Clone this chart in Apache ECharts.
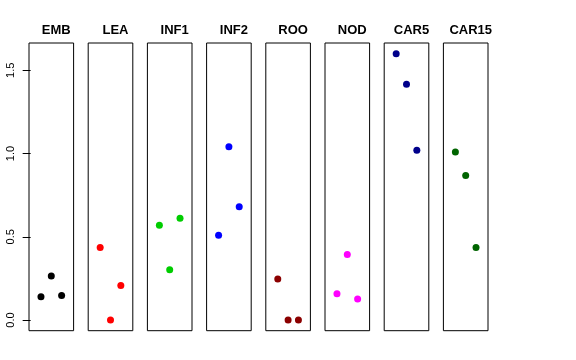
<!DOCTYPE html>
<html>
<head>
<meta charset="utf-8">
<script src="https://cdn.jsdelivr.net/npm/echarts@6/dist/echarts.min.js"></script>
<style>html,body{margin:0;padding:0;background:#fff}#c{width:576px;height:360px}</style>
</head>
<body>
<div id="c"></div>
<script>
const categories = ['EMB', 'LEA', 'INF1', 'INF2', 'ROO', 'NOD', 'CAR5', 'CAR15'];
const positions = [1, 2, 3];
const EMB = [0.140, 0.265, 0.148];
const LEA = [0.436, 0.000, 0.208];
const INF1 = [0.570, 0.302, 0.612];
const INF2 = [0.510, 1.041, 0.681];
const ROO = [0.246, 0.000, 0.000];
const NOD = [0.158, 0.394, 0.126];
const CAR5 = [1.600, 1.416, 1.020];
const CAR15 = [1.010, 0.868, 0.436];
const yTicks = [0, 0.5, 1.0, 1.5];
const seriesValues = [EMB, LEA, INF1, INF2, ROO, NOD, CAR5, CAR15];
const colors = ['#000000', '#FF0000', '#00CD00', '#0000FF', '#8B0000', '#FF00FF', '#00008B', '#006400'];

const font = 'Liberation Sans, Arial, Helvetica, sans-serif';
const left0 = 29, pitch = 59.2, gw = 44.6, gTop = 43, gh = 287.7;
const grids = [], xAxes = [], yAxes = [], series = [], titles = [];
categories.forEach((name, i) => {
  const l = left0 + i * pitch;
  grids.push({left: l, top: gTop, width: gw, height: gh, show: true, borderColor: '#000', borderWidth: 1, backgroundColor: 'transparent', containLabel: false});
  xAxes.push({gridIndex: i, type: 'value', min: -0.16, max: 4.16, show: false});
  yAxes.push({
    gridIndex: i, type: 'value', min: -0.064, max: 1.664, show: i === 0,
    axisLine: {show: false},
    splitLine: {show: false},
    axisTick: {show: i === 0, length: 8, inside: false, customValues: yTicks, lineStyle: {color: '#000', width: 1}},
    axisLabel: {show: i === 0, customValues: yTicks, rotate: 90, margin: 13, color: '#000', fontSize: 11, fontFamily: font,
      formatter: v => Number(v).toFixed(1)}
  });
  series.push({
    type: 'scatter', xAxisIndex: i, yAxisIndex: i, symbol: 'circle', symbolSize: 7,
    itemStyle: {color: colors[i], opacity: 1}, silent: true,
    data: positions.map((p, k) => [p, seriesValues[i][k]])
  });
  titles.push({text: name, left: l + gw / 2, top: 19, textAlign: 'center',
    textStyle: {fontSize: 13, fontWeight: 'bold', color: '#000', fontFamily: font}});
});

const chart = echarts.init(document.getElementById('c'), null, {renderer: 'canvas'});
chart.setOption({
  animation: false,
  backgroundColor: '#fff',
  title: titles,
  grid: grids,
  xAxis: xAxes,
  yAxis: yAxes,
  series: series
});
</script>
</body>
</html>
